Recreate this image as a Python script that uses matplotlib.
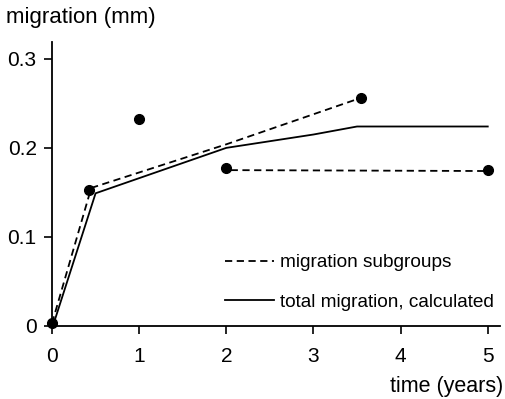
import matplotlib
matplotlib.use("Agg")
import matplotlib.pyplot as plt
from matplotlib.lines import Line2D

plt.rcParams['font.family'] = ['Liberation Sans', 'DejaVu Sans']

# data
pts_x = [0, 0.43, 1.0, 2.0, 3.54, 5.0]
pts_y = [0.003, 0.153, 0.232, 0.177, 0.256, 0.175]

sub1_x = [0, 0.45, 2.0, 3.54]
sub1_y = [0.003, 0.155, 0.204, 0.256]
sub2_x = [2.05, 5.0]
sub2_y = [0.175, 0.174]

total_x = [0.02, 0.5, 2.0, 3.0, 3.5, 5.0]
total_y = [0.003, 0.149, 0.200, 0.215, 0.224, 0.224]

xticks = [0, 1, 2, 3, 4, 5]
yticks = [0, 0.1, 0.2, 0.3]
yticklabels = ['0', '0.1', '0.2', '0.3']

fig = plt.figure(figsize=(5.05, 3.99), dpi=100)
ax = fig.add_axes([0.103, 0.183, 0.887, 0.712])

lw = 1.3
ax.plot(sub1_x, sub1_y, color='black', lw=lw, dashes=(4, 2.5), clip_on=False)
ax.plot(sub2_x, sub2_y, color='black', lw=lw, dashes=(4, 2.5), clip_on=False)
ax.plot(total_x, total_y, color='black', lw=lw, clip_on=False)
ax.plot(pts_x, pts_y, 'o', color='black', ms=7, clip_on=False, zorder=5)

ax.set_xlim(0, 5.14)
ax.set_ylim(0, 0.319)
ax.set_xticks(xticks)
ax.set_xticklabels([str(v) for v in xticks])
ax.set_yticks(yticks)
ax.set_yticklabels(yticklabels)

for s in ['top', 'right']:
    ax.spines[s].set_visible(False)
for s in ['left', 'bottom']:
    ax.spines[s].set_linewidth(1.3)
ax.tick_params(direction='out', length=6, width=1.2, labelsize=15)
ax.tick_params(axis='y', pad=5)
ax.tick_params(axis='x', pad=9)

fig.text(0.012, 0.982, 'migration (mm)', fontsize=16, ha='left', va='top')
fig.text(0.997, 0.005, 'time (years)', fontsize=15.5, ha='right', va='bottom')

handles = [Line2D([], [], color='black', lw=lw, dashes=(4, 2.5)),
           Line2D([], [], color='black', lw=lw)]
ax.legend(handles, ['migration subgroups', 'total migration, calculated'],
          frameon=False, fontsize=13.7, loc='upper left',
          bbox_to_anchor=(225 / 505, 1 - 254 / 399),
          bbox_transform=fig.transFigure, borderaxespad=0, borderpad=0,
          handlelength=2.55, handletextpad=0.35, labelspacing=1.15)

fig.savefig('out.png', dpi=100)
